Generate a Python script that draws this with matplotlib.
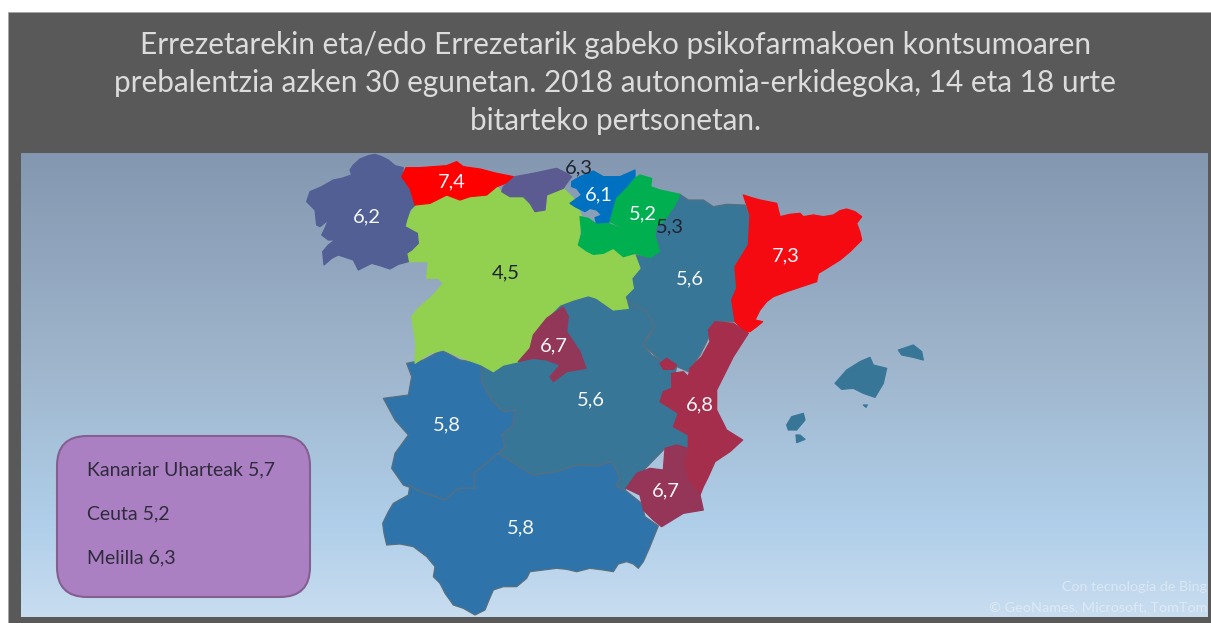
import numpy as np
import matplotlib
matplotlib.use("Agg")
import matplotlib.pyplot as plt
from matplotlib.patches import Polygon, Rectangle, FancyBboxPatch

TITLE = ("Errezetarekin eta/edo Errezetarik gabeko psikofarmakoen kontsumoaren\n"
         "prebalentzia azken 30 egunetan. 2018 autonomia-erkidegoka, 14 eta 18 urte\n"
         "bitarteko pertsonetan.")
regions = ["Galizia", "Asturias", "Kantabria", "Euskadi", "Nafarroa", "Errioxa",
           "Gaztela eta Leon", "Madril", "Gaztela-Mantxa", "Aragoi", "Katalunia",
           "Valentzia", "Murtzia", "Extremadura", "Andaluzia", "Balearrak"]
values = [6.2, 7.4, 6.3, 6.1, 5.2, 5.3, 4.5, 6.7, 5.6, 5.6, 7.3, 6.8, 6.7, 5.8, 5.8, 5.6]
colors = ["#525f95", "#ff0000", "#5b5b92", "#0070c0", "#00b050", "#00b050", "#92d050", "#933759",
          "#387698", "#387698", "#f40a10", "#a52e4c", "#953558", "#2e74aa", "#2e74aa", "#387698"]
off_map = ["Kanariar Uharteak", "Ceuta", "Melilla"]
off_values = [5.7, 5.2, 6.3]

def fmt(v):
    return f"{v:.1f}".replace(".", ",")

def Z(ox, oy, pts):
    return [(ox + x / 3, oy + y / 3) for x, y in pts]

A = lambda pts: Z(300, 145, pts)
B = lambda pts: Z(560, 145, pts)
C = lambda pts: Z(370, 340, pts)
D = lambda pts: Z(620, 320, pts)

outlines = {
 "Gaztela-Mantxa": [C([(335, 60)]) + A([(780, 480), (865, 452), (890, 460), (940, 495)]) +
      B([(205, 470), (240, 482), (260, 500), (278, 525), (285, 545), (262, 575), (250, 600), (275, 630), (300, 645), (350, 665)]) +
      D([(155, 205), (120, 245), (175, 280), (160, 320), (205, 345), (205, 385), (135, 385), (18, 505)]) +
      C([(765, 450), (738, 440), (750, 410), (725, 365), (680, 378), (620, 375), (560, 395), (490, 405), (440, 375), (385, 340),
         (405, 320), (395, 285), (430, 255), (435, 210), (400, 215), (365, 180), (335, 125)])],
 "Aragoi": [B([(360, 148), (385, 165), (430, 165), (460, 185), (500, 178), (555, 180), (570, 210), (565, 300),
      (525, 365), (530, 430), (515, 465), (525, 530), (470, 530), (440, 590), (420, 630), (385, 680), (340, 660),
      (300, 645), (250, 600), (285, 545), (260, 500), (205, 470), (195, 455), (220, 430), (215, 400), (240, 370),
      (225, 330), (270, 338), (298, 320), (285, 270), (290, 240), (310, 230), (345, 180)])],
 "Gaztela eta Leon": [A([(345, 180), (390, 175), (440, 150), (480, 165), (510, 155), (560, 150), (590, 125), (605, 140),
      (630, 155), (670, 155), (690, 175), (705, 200), (735, 195), (740, 150), (790, 130), (825, 165), (845, 215),
      (835, 300), (860, 318), (880, 328), (910, 325), (940, 310), (970, 335), (1005, 330), (1020, 370), (995, 400),
      (1000, 430), (975, 455), (985, 490), (940, 495), (890, 460), (865, 452), (820, 465), (780, 480), (740, 520),
      (700, 570), (690, 610), (655, 650), (610, 660), (580, 680), (545, 660), (490, 640), (430, 615), (390, 625),
      (345, 655), (348, 600), (335, 515), (355, 490), (400, 450), (430, 415), (415, 400), (380, 400), (385, 350),
      (325, 350), (320, 325), (355, 295), (352, 265), (320, 250), (320, 225)])],
 "Galizia": [A([(150, 75), (160, 60), (180, 42), (205, 32), (225, 28), (245, 35), (265, 45), (285, 62), (310, 68), (305, 95),
      (318, 112), (330, 130), (345, 160), (345, 180), (330, 195), (320, 225), (315, 245), (352, 265), (355, 295), (335, 315),
      (320, 325), (325, 350), (295, 358), (270, 372), (240, 362), (215, 355), (195, 365), (175, 375), (160, 345), (130, 335),
      (115, 330), (95, 340), (72, 360), (68, 320), (85, 300), (105, 285), (85, 285), (65, 270), (75, 250), (85, 225), (60, 245),
      (50, 240), (45, 195), (20, 170), (30, 140), (65, 125), (100, 105), (125, 100), (155, 90)])],
 "Asturias": [A([(305, 95), (318, 68), (360, 68), (400, 65), (440, 62), (470, 50), (490, 65), (540, 72), (590, 85), (640, 95),
      (625, 112), (590, 125), (560, 150), (510, 155), (480, 165), (440, 150), (390, 175), (345, 180), (330, 130)])],
 "Kantabria": [A([(610, 125), (645, 95), (700, 85), (770, 70), (800, 85), (815, 95), (800, 115), (790, 130), (740, 150),
      (735, 195), (705, 200), (690, 175), (670, 155), (630, 155), (605, 140)])],
 "Euskadi": [B([(35, 110), (60, 95), (100, 78), (130, 95), (180, 95), (225, 75), (225, 100), (200, 130), (170, 160),
      (155, 215), (145, 235), (110, 238), (105, 218), (125, 210), (110, 195), (90, 190), (75, 200), (45, 185), (30, 175),
      (65, 150), (50, 130), (35, 125)])],
 "Nafarroa": [B([(225, 100), (240, 90), (275, 100), (272, 125), (300, 135), (360, 148), (345, 180), (310, 230), (290, 240),
      (285, 270), (298, 320), (270, 338), (225, 325), (248, 290), (210, 260), (150, 230), (170, 160), (200, 130)])],
 "Errioxa": [B([(60, 215), (85, 220), (110, 238), (145, 235), (210, 260), (248, 290), (225, 325), (190, 335), (160, 310),
      (130, 325), (100, 328), (80, 318), (55, 300), (65, 265)])],
 "Madril": [A([(790, 485), (805, 515), (800, 560), (840, 620), (858, 670), (800, 680), (760, 710), (750, 695), (780, 660),
      (740, 645), (700, 640), (655, 650), (690, 610), (700, 570), (740, 520)])],
 "Katalunia": [B([(550, 150), (575, 158), (600, 165), (650, 175), (660, 215), (690, 208), (720, 205), (730, 215), (760, 210),
      (790, 215), (820, 210), (840, 197), (860, 192), (885, 200), (905, 215), (890, 235), (900, 262), (905, 285), (870, 320),
      (840, 345), (800, 370), (775, 385), (770, 410), (725, 425), (680, 440), (640, 455), (620, 470), (600, 495), (585, 525),
      (608, 530), (590, 545), (570, 560), (555, 560), (525, 530), (515, 465), (530, 430), (525, 365), (565, 300), (570, 210)])],
 "Valentzia": [D([(285, 5), (340, 10), (385, 40), (340, 110), (320, 150), (290, 210), (290, 270), (320, 330), (368, 360),
      (330, 395), (285, 425), (265, 470), (250, 500), (240, 525), (205, 480), (190, 430), (205, 385), (205, 345), (160, 320),
      (175, 280), (120, 245), (130, 215), (155, 205), (155, 160), (190, 155), (205, 170), (210, 145), (245, 110), (270, 65),
      (265, 30)]), D([(120, 130), (140, 115), (170, 135), (160, 148), (130, 148)])],
 "Murtzia": [D([(135, 385), (170, 375), (205, 385), (190, 430), (205, 480), (240, 525), (250, 570), (190, 580), (125, 620),
      (100, 600), (70, 570), (60, 525), (18, 505), (50, 460), (90, 445), (130, 450)])],
 "Extremadura": [C([(110, 70), (160, 60), (215, 30), (270, 60), (335, 70), (335, 125), (365, 180), (400, 215), (435, 210),
      (430, 255), (395, 285), (405, 320), (385, 340), (312, 400), (315, 445), (265, 445), (225, 480), (140, 450), (100, 435),
      (65, 385), (75, 340), (115, 285), (75, 240), (40, 175), (115, 165), (125, 110)])],
 "Andaluzia": [C([(120, 435), (140, 450), (225, 480), (265, 445), (315, 445), (312, 400), (385, 340), (490, 405), (560, 395),
      (620, 375), (680, 378), (725, 365), (750, 410), (738, 440), (765, 450), (815, 490), (825, 530), (865, 558), (852, 590),
      (840, 620), (820, 665), (805, 685), (790, 672), (770, 665), (745, 672), (730, 695), (700, 690), (660, 685), (620, 695),
      (590, 688), (560, 685), (520, 690), (480, 695), (470, 715), (440, 740), (400, 740), (370, 750), (355, 785), (345, 810),
      (315, 825), (280, 805), (250, 795), (225, 760), (210, 730), (190, 710), (195, 680), (170, 650), (130, 620), (90, 612),
      (50, 615), (42, 580), (38, 550), (55, 515), (70, 490), (115, 465)])],
 "Balearrak": [D([(645, 190), (680, 150), (720, 125), (750, 112), (760, 135), (800, 145), (790, 190), (765, 232), (730, 220),
      (700, 205), (665, 208)]), D([(835, 90), (880, 75), (905, 95), (910, 120), (880, 112), (845, 105)]),
      D([(500, 315), (515, 290), (550, 280), (555, 300), (530, 330), (505, 330)]),
      D([(528, 345), (540, 345), (555, 358), (530, 368)]), D([(730, 255), (742, 255), (738, 262)])],
}

label_at = {"Galizia": (367, 217), "Asturias": (452, 182), "Kantabria": (579, 168), "Euskadi": (599, 195),
            "Nafarroa": (643, 214), "Errioxa": (670, 227), "Gaztela eta Leon": (506, 273), "Aragoi": (690, 279),
            "Katalunia": (786, 256), "Madril": (554, 346), "Gaztela-Mantxa": (591, 400), "Valentzia": (700, 405),
            "Extremadura": (447, 425), "Murtzia": (666, 491), "Andaluzia": (521, 528)}
dark_labels = {"Kantabria", "Errioxa", "Gaztela eta Leon"}
bordered = {"Gaztela-Mantxa", "Aragoi", "Extremadura", "Andaluzia"}
draw_order = ["Gaztela-Mantxa", "Aragoi", "Extremadura", "Andaluzia", "Gaztela eta Leon", "Galizia", "Asturias",
              "Kantabria", "Euskadi", "Errioxa", "Nafarroa", "Madril", "Katalunia", "Valentzia", "Murtzia", "Balearrak"]

plt.rcParams["font.family"] = ["Lato", "DejaVu Sans"]
fig = plt.figure(figsize=(12.11, 6.23), dpi=100, facecolor="white")
ax = fig.add_axes([0, 0, 1, 1])
ax.axis("off")

ax.add_patch(Rectangle((8, 12), 1203, 611, fc="#595959", ec="#a6a6a6", lw=0.6, zorder=0))
grad = np.array([[0.518, 0.592, 0.690], [0.620, 0.710, 0.800], [0.690, 0.810, 0.915], [0.785, 0.865, 0.940]])
stops = np.array([0, 0.45, 0.80, 1.0])
t = np.linspace(0, 1, 256)
img = np.stack([np.interp(t, stops, grad[:, i]) for i in range(3)], axis=1)[:, None, :]
ax.imshow(img, extent=(21, 1208, 617, 153), aspect="auto", zorder=1, interpolation="bilinear")
ax.set_xlim(0, 1211)
ax.set_ylim(623, 0)

color_of = dict(zip(regions, colors))
for name in draw_order:
    for pts in outlines[name]:
        edge = "#566f80" if name in bordered else color_of[name]
        ax.add_patch(Polygon(pts, closed=True, fc=color_of[name], ec=edge, lw=0.9, zorder=3, joinstyle="round"))

for name, v in zip(regions, values):
    if name in label_at:
        x, y = label_at[name]
        ax.text(x, y, fmt(v), ha="center", va="center", fontsize=14.5, zorder=5,
                color="#1f2430" if name in dark_labels else "#f4f6f8")

ax.text(615, 83, TITLE, ha="center", va="center", fontsize=21.4, color="#dcdcdc", linespacing=1.44, zorder=5)

ax.add_patch(FancyBboxPatch((57 + 30, 436 + 30), 253 - 60, 161 - 60, boxstyle="round,pad=30,rounding_size=30",
                            fc="#ab80c2", ec="#83608f", lw=1.5, zorder=4))
for y, n, v in zip([470, 514, 558], off_map, off_values):
    ax.text(87, y, f"{n} {fmt(v)}", ha="left", va="center", fontsize=14, color="#2f2b3d", zorder=5)

ax.text(1207, 587, "Con tecnología de Bing", ha="right", va="center", fontsize=10.3, color="white", alpha=0.42, zorder=5)
ax.text(1207, 607, "© GeoNames, Microsoft, TomTom", ha="right", va="center", fontsize=10.4, color="white", alpha=0.42, zorder=5)

fig.savefig("out.png", dpi=100)
